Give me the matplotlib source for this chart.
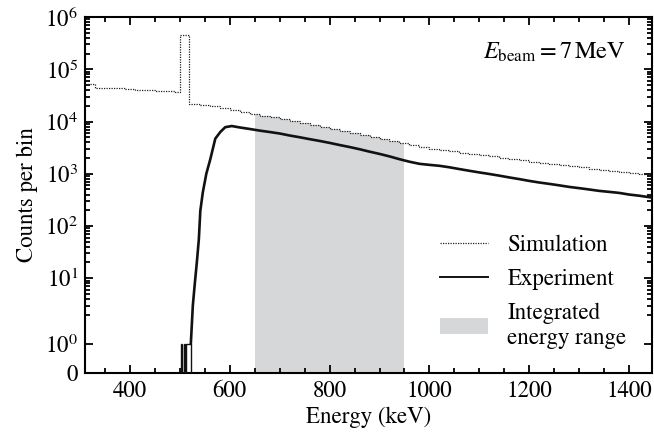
import numpy as np
import matplotlib
matplotlib.use("Agg")
import matplotlib.pyplot as plt
from matplotlib.ticker import FixedLocator, FixedFormatter, MultipleLocator
from matplotlib.patches import Patch
from matplotlib.lines import Line2D

plt.rcParams["font.family"] = ["STIXGeneral", "DejaVu Serif"]
plt.rcParams["mathtext.fontset"] = "stix"

# simulated spectrum (bin edges in keV, counts per bin)
sim_edges = [310, 330, 350, 370, 390, 410, 430, 450, 470, 490, 500, 518,
             540, 560, 580, 600, 620, 640, 660, 680, 700, 720, 740, 760, 780,
             800, 820, 840, 860, 880, 900, 920, 940, 960, 980, 1000, 1020,
             1040, 1060, 1080, 1100, 1120, 1140, 1160, 1180, 1200, 1220, 1240,
             1260, 1280, 1300, 1320, 1340, 1360, 1380, 1400, 1420, 1446]
sim_counts = [52000, 44500, 44000, 43000, 42000, 41000, 40000, 39000, 38000, 36500,
              450000, 22000,
              21000, 19500, 18000, 16500, 15200, 13800, 12900, 12000, 11000, 10100,
              9300, 8600, 7900, 7300, 6700, 6100, 5600, 5100, 4700, 4200,
              3800, 3500, 3250, 3000, 2850, 2700, 2550, 2400, 2250, 2150,
              2000, 1900, 1800, 1700, 1600, 1520, 1450, 1380, 1320, 1260,
              1200, 1150, 1100, 1050, 980]

# measured spectrum: low-count bins around 511 keV
exp_low_edges = [500, 502, 504, 506, 508, 510, 512, 514, 516, 518, 520, 522]
exp_low_counts = [0, 1, 0, 0, 1, 0, 1, 1, 1, 1, 1]

# measured spectrum above 522 keV
exp_e = [522, 526, 530, 534, 538, 541, 546, 553, 561, 571, 581, 591, 604, 620,
         640, 660, 680, 700, 720, 740, 760, 780, 800, 820, 840, 860, 880, 900,
         920, 940, 960, 980, 1000, 1020, 1040, 1060, 1080, 1100, 1120, 1140,
         1160, 1180, 1200, 1220, 1240, 1260, 1280, 1300, 1320, 1340, 1360,
         1380, 1400, 1420, 1446]
exp_c = [1, 3, 8, 20, 55, 195, 440, 1000, 1900, 4700, 6300, 7800, 8200, 7700,
         7200, 6700, 6300, 5900, 5400, 5000, 4600, 4250, 3900, 3550, 3250, 2950,
         2650, 2400, 2150, 1900, 1700, 1550, 1480, 1420, 1330, 1230, 1140, 1060,
         990, 920, 850, 790, 730, 680, 640, 600, 560, 530, 500, 470, 450,
         430, 400, 380, 350]

e_min, e_max = 650, 950   # integrated energy range

fig = plt.figure(figsize=(6.54, 4.38), dpi=100)
ax = fig.add_axes([0.130, 0.149, 0.867, 0.812])

gray = "#d6d7d9"
xs = np.repeat(sim_edges, 2)[1:-1]
ys = np.repeat(sim_counts, 2)
ax.fill_between(np.clip(xs, e_min, e_max), 0, ys, color=gray, lw=0, zorder=1)

ax.stairs(sim_counts, sim_edges, baseline=None, color="#222222", lw=0.9,
          ls=(0, (1, 1)), zorder=2)
ax.stairs(exp_low_counts, exp_low_edges, color="#111111", lw=1.0, zorder=3)
ax.plot(exp_e, exp_c, color="#111111", lw=1.9, zorder=3)

ax.set_yscale("symlog", linthresh=2, linscale=1)
ax.set_ylim(0, 1e6)
ax.set_xlim(310, 1446)

yt = [0, 1, 10, 100, 1e3, 1e4, 1e5, 1e6]
ax.yaxis.set_major_locator(FixedLocator(yt))
ax.yaxis.set_major_formatter(FixedFormatter(
    ["0", r"$10^0$", r"$10^1$", r"$10^2$", r"$10^3$", r"$10^4$", r"$10^5$", r"$10^6$"]))
minor = [k * 10.0**n for n in range(0, 6) for k in range(2, 10)]
ax.yaxis.set_minor_locator(FixedLocator(minor))
ax.xaxis.set_major_locator(MultipleLocator(200))
ax.xaxis.set_minor_locator(MultipleLocator(50))

ax.tick_params(which="both", direction="in", top=True, right=True, width=1.3,
               labelsize=16.5)
ax.tick_params(which="major", length=6)
ax.tick_params(which="minor", length=3.5)
ax.tick_params(axis="x", pad=6)
ax.tick_params(axis="y", pad=5)
for s in ax.spines.values():
    s.set_linewidth(1.5)

ax.set_xlabel("Energy (keV)", fontsize=16.5, labelpad=3)
ax.set_ylabel("Counts per bin", fontsize=16.5, labelpad=5)

ax.text(0.953, 0.9, r"$E_{\mathrm{beam}} = 7\,\mathrm{MeV}$", transform=ax.transAxes,
        ha="right", va="center", fontsize=17.5)

handles = [Line2D([], [], color="#222222", lw=0.9, ls=(0, (1, 1))),
           Line2D([], [], color="#111111", lw=1.4),
           Patch(facecolor=gray, edgecolor="none")]
labels = ["Simulation", "Experiment", "Integrated\nenergy range"]
ax.legend(handles, labels, loc="lower right", bbox_to_anchor=(0.975, 0.035),
          frameon=False, fontsize=16.5, handlelength=2.1, handletextpad=0.85,
          labelspacing=0.55, borderpad=0)

fig.savefig("out.png", dpi=100)
